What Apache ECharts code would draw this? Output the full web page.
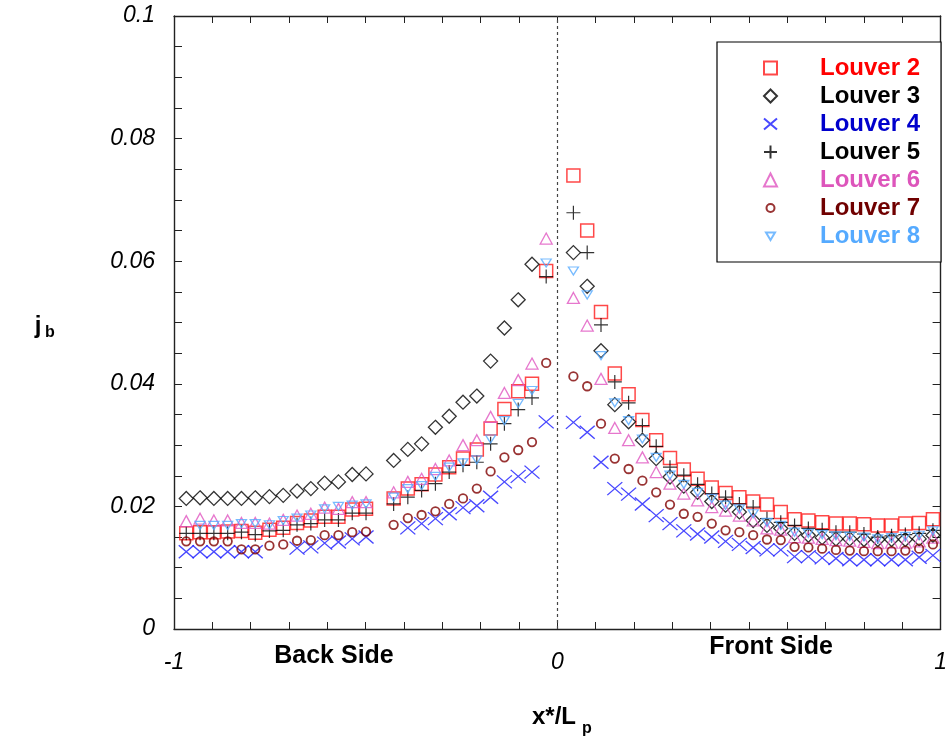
<!DOCTYPE html>
<html>
<head>
<meta charset="utf-8">
<script src="https://cdn.jsdelivr.net/npm/echarts/dist/echarts.min.js"></script>
<style>
  html, body { margin: 0; padding: 0; background: #fff; }
  #chart { width: 950px; height: 747px; }
</style>
</head>
<body>
<div id="chart"></div>
<script>
// Positions along the louver (x*/Lp): back side (negative) and front side (positive)
const xBack = [-0.968, -0.932, -0.896, -0.860, -0.824, -0.788, -0.751, -0.715, -0.679, -0.643, -0.607, -0.571, -0.535, -0.499,
               -0.427, -0.390, -0.354, -0.318, -0.282, -0.246, -0.210, -0.174, -0.138, -0.102, -0.066, -0.029];
const xFront = [0.042, 0.078, 0.114, 0.150, 0.186, 0.222, 0.258, 0.294, 0.330, 0.366, 0.403, 0.439, 0.475, 0.511,
                0.547, 0.583, 0.619, 0.655, 0.691, 0.727, 0.763, 0.800, 0.836, 0.872, 0.908, 0.944, 0.980];

// j-factor per louver, back side then front side
const louver2Back  = [0.0156, 0.0158, 0.0158, 0.0159, 0.0160, 0.0157, 0.0162, 0.0165, 0.0173, 0.0177, 0.0183, 0.0183, 0.0195, 0.0196, 0.0213, 0.0229, 0.0236, 0.0252, 0.0264, 0.0278, 0.0293, 0.0327, 0.0359, 0.0388, 0.0400, 0.0584];
const louver2Front = [0.0740, 0.0650, 0.0517, 0.0417, 0.0383, 0.0341, 0.0308, 0.0279, 0.0260, 0.0245, 0.0231, 0.0222, 0.0215, 0.0208, 0.0203, 0.0191, 0.0179, 0.0177, 0.0174, 0.0172, 0.0172, 0.0171, 0.0169, 0.0169, 0.0172, 0.0173, 0.0179];

const louver3Back  = [0.0213, 0.0214, 0.0213, 0.0213, 0.0213, 0.0214, 0.0216, 0.0218, 0.0225, 0.0229, 0.0238, 0.0240, 0.0252, 0.0253, 0.0275, 0.0293, 0.0302, 0.0329, 0.0347, 0.0370, 0.0380, 0.0437, 0.0491, 0.0537, 0.0595, null];
const louver3Front = [0.0614, 0.0559, 0.0454, 0.0366, 0.0338, 0.0308, 0.0278, 0.0248, 0.0233, 0.0223, 0.0208, 0.0202, 0.0191, 0.0177, 0.0169, 0.0164, 0.0156, 0.0153, 0.0149, 0.0147, 0.0147, 0.0146, 0.0146, 0.0146, 0.0146, 0.0147, 0.0153];

const louver4Back  = [0.0126, 0.0126, 0.0126, 0.0126, 0.0126, 0.0126, null, null, 0.0132, 0.0134, 0.0140, 0.0142, 0.0147, 0.0150, null, 0.0165, 0.0172, 0.0180, 0.0188, 0.0198, 0.0201, 0.0215, 0.0240, 0.0249, 0.0256, 0.0338];
const louver4Front = [0.0337, 0.0321, 0.0272, 0.0229, 0.0220, 0.0204, 0.0185, 0.0172, 0.0160, 0.0155, 0.0150, 0.0143, 0.0138, 0.0133, 0.0129, 0.0129, 0.0118, 0.0118, 0.0116, 0.0115, 0.0113, 0.0113, 0.0113, 0.0113, 0.0113, 0.0117, 0.0120];

const louver5Back  = [0.0156, 0.0156, 0.0156, 0.0156, 0.0158, 0.0154, 0.0160, 0.0161, 0.0170, 0.0172, 0.0178, 0.0178, 0.0189, 0.0189, 0.0204, 0.0215, 0.0226, 0.0237, 0.0256, 0.0267, 0.0272, 0.0302, 0.0335, 0.0358, 0.0377, 0.0575];
const louver5Front = [0.0679, 0.0614, 0.0496, 0.0403, 0.0369, 0.0332, 0.0298, 0.0264, 0.0251, 0.0236, 0.0221, 0.0215, 0.0204, 0.0199, 0.0180, 0.0174, 0.0169, 0.0164, 0.0162, 0.0158, 0.0158, 0.0155, 0.0150, 0.0152, 0.0154, 0.0156, 0.0161];

const louver6Back  = [0.0176, 0.0180, 0.0177, 0.0177, 0.0173, 0.0173, 0.0172, 0.0178, 0.0185, 0.0188, 0.0198, 0.0196, 0.0207, 0.0207, 0.0223, 0.0240, 0.0245, 0.0261, 0.0275, 0.0300, 0.0308, 0.0346, 0.0385, 0.0406, 0.0433, 0.0637];
const louver6Front = [0.0540, 0.0495, 0.0408, 0.0328, 0.0308, 0.0280, 0.0256, 0.0237, 0.0221, 0.0210, 0.0199, 0.0193, 0.0185, 0.0177, 0.0164, 0.0162, 0.0150, 0.0149, 0.0147, 0.0145, 0.0144, 0.0142, 0.0140, 0.0141, 0.0141, 0.0143, 0.0149];

const louver7Back  = [0.0143, 0.0143, 0.0143, 0.0143, 0.0130, 0.0130, 0.0136, 0.0138, 0.0144, 0.0145, 0.0153, 0.0153, 0.0158, 0.0159, 0.0170, 0.0181, 0.0186, 0.0192, 0.0204, 0.0213, 0.0229, 0.0257, 0.0280, 0.0292, 0.0305, 0.0434];
const louver7Front = [0.0412, 0.0396, 0.0335, 0.0278, 0.0261, 0.0242, 0.0223, 0.0203, 0.0188, 0.0183, 0.0172, 0.0161, 0.0158, 0.0153, 0.0146, 0.0145, 0.0134, 0.0133, 0.0131, 0.0129, 0.0128, 0.0127, 0.0127, 0.0127, 0.0128, 0.0131, 0.0138];

const louver8Back  = [null, 0.0169, 0.0169, 0.0169, 0.0172, 0.0172, 0.0170, 0.0177, 0.0181, 0.0186, 0.0196, 0.0200, 0.0202, 0.0204, 0.0215, 0.0229, 0.0234, 0.0249, 0.0264, 0.0271, 0.0276, 0.0310, 0.0340, 0.0368, 0.0389, 0.0597];
const louver8Front = [0.0584, 0.0545, 0.0446, 0.0369, 0.0340, 0.0310, 0.0280, 0.0251, 0.0236, 0.0223, 0.0213, 0.0202, 0.0196, 0.0188, 0.0174, 0.0169, 0.0158, 0.0156, 0.0154, 0.0152, 0.0151, 0.0150, 0.0147, 0.0149, 0.0151, 0.0153, 0.0160];

const seriesNames = ['Louver 2', 'Louver 3', 'Louver 4', 'Louver 5', 'Louver 6', 'Louver 7', 'Louver 8'];
const xTickLabels = ['-1', '0', '1'];
const yTickLabels = ['0', '0.02', '0.04', '0.06', '0.08', '0.1'];

const FONT = "'Liberation Sans', Arial, Helvetica, sans-serif";

function pairs(back, front) {
  const out = [];
  back.forEach((v, i) => { if (v !== null) out.push([xBack[i], v]); });
  front.forEach((v, i) => { if (v !== null) out.push([xFront[i], v]); });
  return out;
}

// legend glyphs: the extra move points pad the box so the small markers stay small
const smallCircleIcon = 'path://M-6.5,-6.5M6.5,6.5M-4,0A4,4 0 1 1 4,0A4,4 0 1 1 -4,0Z';
const smallDownTriIcon = 'path://M-6.5,-6.5M6.5,6.5M-4.5,-3.5L4.5,-3.5L0,4Z';

const styles = [
  { data: pairs(louver2Back, louver2Front), symbol: 'rect', size: 13, color: '#ff1a1a', width: 1.5, text: '#ff0000' },
  { data: pairs(louver3Back, louver3Front), symbol: 'diamond', size: 14, color: '#000000', width: 1.3, text: '#000000' },
  { data: pairs(louver4Back, louver4Front), symbol: 'path://M0,0L14,12M14,0L0,12', size: [15, 13], color: '#1a1aff', width: 1.3, text: '#0000cc' },
  { data: pairs(louver5Back, louver5Front), symbol: 'path://M7,0L7,14M0,7L14,7', size: 14, color: '#000000', width: 1.2, text: '#000000' },
  { data: pairs(louver6Back, louver6Front), symbol: 'triangle', size: [12, 11], color: '#e055c0', width: 1.3, text: '#dd55bb' },
  { data: pairs(louver7Back, louver7Front), symbol: 'circle', size: 8.5, color: '#800000', width: 1.8, text: '#700000', icon: smallCircleIcon },
  { data: pairs(louver8Back, louver8Front), symbol: 'triangle', size: [10, 8], color: '#55aaff', width: 1.3, text: '#55aaff', rotate: 180, icon: smallDownTriIcon }
];

const series = styles.map((s, i) => ({
  name: seriesNames[i],
  type: 'scatter',
  xAxisIndex: 0,
  yAxisIndex: 0,
  data: s.data,
  symbol: s.symbol,
  symbolSize: s.size,
  symbolRotate: s.rotate || 0,
  itemStyle: { color: 'rgba(0,0,0,0)', borderColor: s.color, borderWidth: s.width },
  emphasis: { disabled: true },
  z: 3 + i
}));

// dotted divider between the back and front sides at x*/Lp = 0
series[0].markLine = {
  silent: true,
  symbol: 'none',
  label: { show: false },
  lineStyle: { color: '#444', width: 1.2, type: [3, 3] },
  data: [{ xAxis: 0 }]
};

const axisLine = { show: true, onZero: false, lineStyle: { color: '#222', width: 1.4 } };
const near = (v, t) => Math.abs(v - t) < 1e-6;

const chart = echarts.init(document.getElementById('chart'), null, { renderer: 'canvas' });
chart.setOption({
  animation: false,
  backgroundColor: '#fff',
  grid: { left: 174, right: 7, top: 16, bottom: 118, containLabel: false },
  xAxis: [
    {
      type: 'value', position: 'bottom', min: -1, max: 1, interval: 0.1,
      axisLine, splitLine: { show: false },
      axisTick: { inside: true, length: 7, lineStyle: { color: '#222', width: 1 } },
      axisLabel: {
        margin: 22, fontFamily: FONT, fontSize: 23, fontStyle: 'italic', color: '#000',
        formatter: v => { const k = xTickLabels.findIndex(t => near(v, Number(t))); return k >= 0 ? xTickLabels[k] : ''; }
      }
    },
    {
      type: 'value', position: 'top', min: -1, max: 1, interval: 0.1,
      axisLine, splitLine: { show: false },
      axisTick: { inside: true, length: 7, lineStyle: { color: '#222', width: 1 } },
      axisLabel: { show: false }
    }
  ],
  yAxis: [
    {
      type: 'value', position: 'left', min: 0, max: 0.1, interval: 0.005,
      axisLine, splitLine: { show: false },
      axisTick: { inside: true, length: 8, lineStyle: { color: '#222', width: 1 } },
      axisLabel: {
        margin: 19, fontFamily: FONT, fontSize: 23, fontStyle: 'italic', color: '#000',
        formatter: v => { const k = yTickLabels.findIndex(t => near(v, Number(t))); return k >= 0 ? yTickLabels[k] : ''; }
      }
    },
    {
      type: 'value', position: 'right', min: 0, max: 0.1, interval: 0.005,
      axisLine, splitLine: { show: false },
      axisTick: { inside: true, length: 8, lineStyle: { color: '#222', width: 1 } },
      axisLabel: { show: false }
    }
  ],
  legend: {
    orient: 'vertical',
    left: 717, top: 42,
    padding: [12, 21, 12, 46],
    borderColor: '#000', borderWidth: 1.2,
    backgroundColor: '#fff',
    itemWidth: 13, itemHeight: 13, itemGap: 0,
    selectedMode: false,
    symbolRotate: 'inherit',
    textStyle: { fontFamily: FONT, fontSize: 24, fontWeight: 'bold', lineHeight: 28, padding: [0, 0, 0, 38] },
    data: seriesNames.map((n, i) => {
      const item = { name: n, textStyle: { color: styles[i].text } };
      if (styles[i].icon) { item.icon = styles[i].icon; item.symbolRotate = 0; }
      return item;
    })
  },
  graphic: [
    { type: 'text', x: 334, y: 656, style: { text: 'Back Side', fontFamily: FONT, fontSize: 25, fontWeight: 'bold', fill: '#000', align: 'center', verticalAlign: 'middle' } },
    { type: 'text', x: 771, y: 647, style: { text: 'Front Side', fontFamily: FONT, fontSize: 25, fontWeight: 'bold', fill: '#000', align: 'center', verticalAlign: 'middle' } },
    { type: 'text', x: 554, y: 717, style: { text: 'x*/L', fontFamily: FONT, fontSize: 24, fontWeight: 'bold', fill: '#000', align: 'center', verticalAlign: 'middle' } },
    { type: 'text', x: 587, y: 729, style: { text: 'p', fontFamily: FONT, fontSize: 16, fontWeight: 'bold', fill: '#000', align: 'center', verticalAlign: 'middle' } },
    { type: 'text', x: 38, y: 326, style: { text: 'j', fontFamily: FONT, fontSize: 24, fontWeight: 'bold', fill: '#000', align: 'center', verticalAlign: 'middle' } },
    { type: 'text', x: 50, y: 333, style: { text: 'b', fontFamily: FONT, fontSize: 16, fontWeight: 'bold', fill: '#000', align: 'center', verticalAlign: 'middle' } }
  ],
  series
});
</script>
</body>
</html>
